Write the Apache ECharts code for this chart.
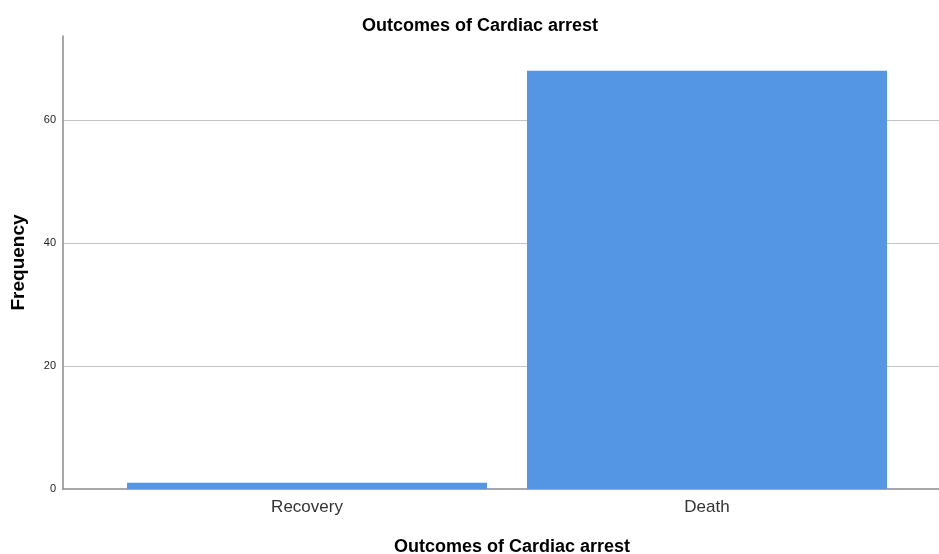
<!DOCTYPE html>
<html>
<head>
<meta charset="utf-8">
<script src="https://cdn.jsdelivr.net/npm/echarts@6/dist/echarts.min.js"></script>
<style>html,body{margin:0;padding:0;background:#fff;}#c{width:939px;height:554px;}</style>
</head>
<body>
<div id="c"></div>
<script>
const categories = ['Recovery', 'Death'];
const frequency = [1, 68];
const yTicks = [0, 20, 40, 60];

const chart = echarts.init(document.getElementById('c'));
const yMax = 73.66;
const font = 'Liberation Sans, Arial, sans-serif';
chart.setOption({
  animation: false,
  title: [
    { text: 'Outcomes of Cardiac arrest', left: 475, top: 12, textAlign: 'center',
      textStyle: { fontFamily: font, fontSize: 18, fontWeight: 'bold', color: '#000' } },
    { text: 'Outcomes of Cardiac arrest', left: 507, top: 533, textAlign: 'center',
      textStyle: { fontFamily: font, fontSize: 18, fontWeight: 'bold', color: '#000' } }
  ],
  grid: [
    { left: 63, right: 0, top: 36, bottom: 65 },
    { left: 107, right: 32, top: 36, bottom: 65 }
  ],
  xAxis: [
    { type: 'category', gridIndex: 0, data: ['', ''], axisTick: { show: false },
      axisLabel: { show: false }, axisLine: { lineStyle: { color: '#8a8a8a', width: 1.5 } } },
    { type: 'category', gridIndex: 1, data: categories, axisTick: { show: false },
      axisLine: { show: false },
      axisLabel: { fontFamily: font, fontSize: 17, color: '#333', margin: 10 } }
  ],
  yAxis: [
    { type: 'value', gridIndex: 0, min: 0, max: yMax, interval: 20,
      name: 'Frequency', nameLocation: 'middle', nameGap: 35,
      nameTextStyle: { fontFamily: font, fontSize: 19, fontWeight: 'bold', color: '#000' },
      axisLine: { show: true, lineStyle: { color: '#8a8a8a', width: 1.5 } },
      axisTick: { show: false },
      axisLabel: { fontFamily: font, fontSize: 11, color: '#222', margin: 7, showMaxLabel: false,
        formatter: v => (yTicks.indexOf(v) >= 0 ? String(v) : '') },
      splitLine: { show: true, showMinLine: false, showMaxLine: false, lineStyle: { color: '#c4c4c4', width: 1 } } },
    { type: 'value', gridIndex: 1, min: 0, max: yMax, show: false, splitLine: { show: false } }
  ],
  series: [
    { type: 'bar', xAxisIndex: 1, yAxisIndex: 1, data: frequency, barCategoryGap: '10%',
      itemStyle: { color: '#5596e4' } }
  ]
});
</script>
</body>
</html>
